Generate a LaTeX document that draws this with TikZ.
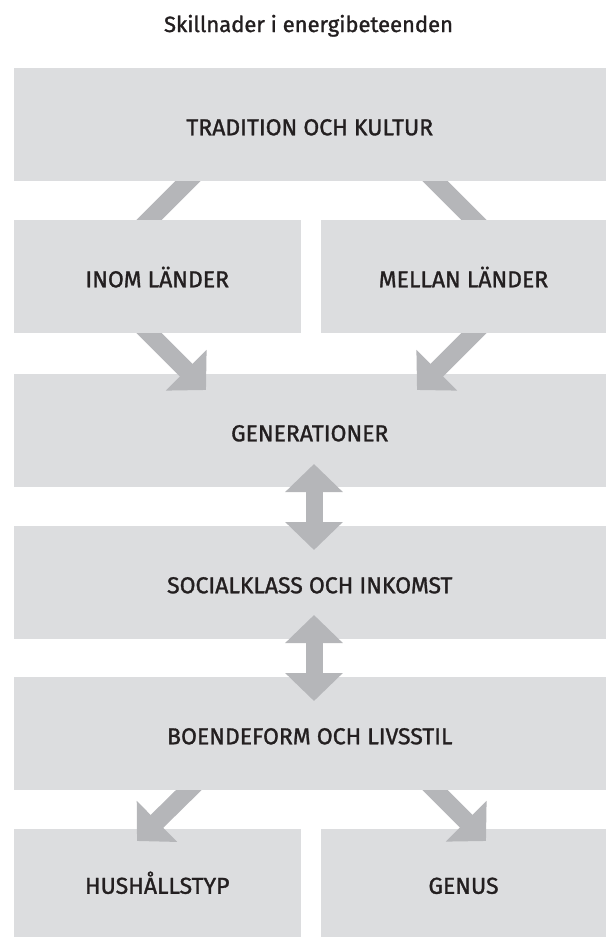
\documentclass[tikz,border=0pt]{standalone}
\usepackage{fontspec}
\setmainfont{Fira Sans}
\newfontfamily\labelfont{Fira Sans}[FakeBold=1.3]
\usetikzlibrary{arrows.meta,calc}
\definecolor{boxgray}{HTML}{DCDDDF}
\definecolor{arrowgray}{HTML}{B5B6B9}
\definecolor{ink}{HTML}{231F20}
\pgfdeclarelayer{lowbox}
\pgfdeclarelayer{lowarrow}
\pgfdeclarelayer{highbox}
\pgfdeclarelayer{higharrow}
\pgfsetlayers{lowbox,lowarrow,highbox,higharrow,main}
\begin{document}
\begin{tikzpicture}[x=1pt,y=-1pt,
  boxnode/.style={inner sep=0pt,outer sep=0pt,minimum height=113pt,text=ink,
    font=\labelfont\fontsize{23}{27}\selectfont,text height=21.5pt,text depth=0pt},
  band/.style={draw=arrowgray,line width=18pt},
  headarrow/.style={band,-{Triangle[width=56pt,length=28pt]}},
  dblarrow/.style={draw=arrowgray,line width=17pt,
    {Triangle[width=56pt,length=28pt]}-{Triangle[width=56pt,length=28pt]}}]
\useasboundingbox (0,0) rectangle (606,937);

\node[anchor=base,text=ink,font=\labelfont\fontsize{22}{26}\selectfont] (title) at (308.5,32) {Skillnader i energibeteenden};

\node[boxnode,minimum width=592.5pt] (trad) at (309.75,124.5) {TRADITION OCH KULTUR};
\node[boxnode,minimum width=287.5pt] (inom) at (157.25,276.5) {INOM LÄNDER};
\node[boxnode,minimum width=285pt] (mellan) at (463.5,276.5) {MELLAN LÄNDER};
\node[boxnode,minimum width=592.5pt] (gen) at (309.75,430.5) {GENERATIONER};
\node[boxnode,minimum width=592.5pt] (soc) at (309.75,582.5) {SOCIALKLASS OCH INKOMST};
\node[boxnode,minimum width=592.5pt] (boe) at (309.75,733.5) {BOENDEFORM OCH LIVSSTIL};
\node[boxnode,minimum width=287.5pt,minimum height=108pt] (hus) at (157.25,883) {HUSHÅLLSTYP};
\node[boxnode,minimum width=285pt,minimum height=108pt] (genus) at (463.5,883) {GENUS};

\begin{pgfonlayer}{lowbox}
  \foreach \n in {gen,soc,hus,genus}
    \fill[boxgray] (\n.north west) rectangle (\n.south east);
\end{pgfonlayer}

\begin{pgfonlayer}{highbox}
  \foreach \n in {trad,inom,mellan,boe}
    \fill[boxgray] (\n.north west) rectangle (\n.south east);
\end{pgfonlayer}

% connector ends (hidden ends lie inside the boxes)
\coordinate (tradL) at (199,170);
\coordinate (inomT) at (139,230);
\coordinate (inomB) at (139,323);
\coordinate (genL)  at (206,390);
\coordinate (tradR) at (425,171);
\coordinate (mellanT) at (484,230);
\coordinate (mellanB) at (484,323);
\coordinate (genR)  at (417,390);
\coordinate (boeL)  at (199,780);
\coordinate (husT)  at (137,841);
\coordinate (boeR)  at (425,780);
\coordinate (genusT) at (486,841);
\coordinate (genS)  at (314,464);
\coordinate (socN)  at (314,550);
\coordinate (socS)  at (314,615);
\coordinate (boeN)  at (314,701);

\begin{pgfonlayer}{lowarrow}
  \draw[band] (tradL) -- (inomT);
  \draw[headarrow] (inomB) -- (genL);
  \draw[band] (tradR) -- (mellanT);
  \draw[headarrow] (mellanB) -- (genR);
  \draw[headarrow] (boeL) -- (husT);
  \draw[headarrow] (boeR) -- (genusT);
\end{pgfonlayer}

\begin{pgfonlayer}{higharrow}
  \draw[dblarrow] (genS) -- (socN);
  \draw[dblarrow] (socS) -- (boeN);
\end{pgfonlayer}
\end{tikzpicture}
\end{document}
